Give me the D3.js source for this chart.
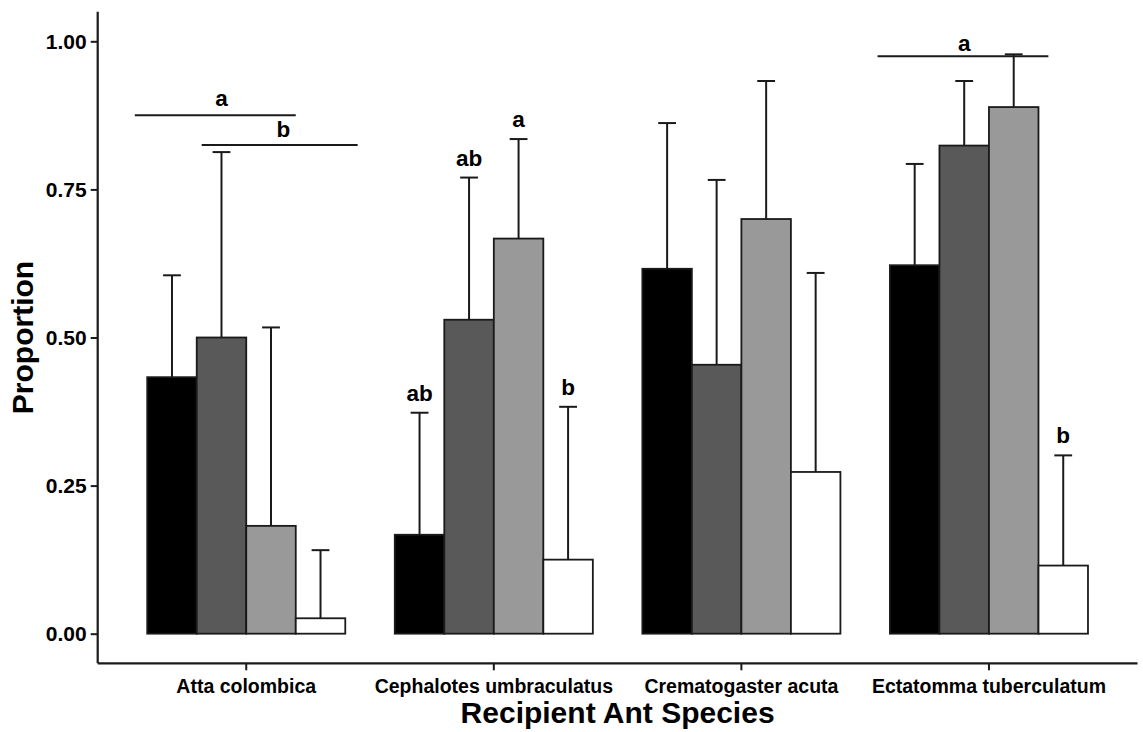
<!DOCTYPE html>
<html>
<head>
<meta charset="utf-8">
<script src="https://cdn.jsdelivr.net/npm/d3@7"></script>
<style>
  html, body { margin: 0; padding: 0; background: #fff; }
  svg { display: block; }
  text { font-family: "Liberation Sans", Arial, Helvetica, sans-serif; font-weight: bold; fill: #000; }
</style>
</head>
<body>
<svg id="chart" width="1143" height="732"></svg>
<script>
// Recipient species on the x axis
const species = ["Atta colombica", "Cephalotes umbraculatus", "Crematogaster acuta", "Ectatomma tuberculatum"];

// Four treatment groups, one bar each per species
const groups = ["g1", "g2", "g3", "g4"];
const groupFills = ["#000000", "#595959", "#999999", "#ffffff"];

// Mean proportion per group (ordered like species)
const meanG1 = [0.433, 0.167, 0.616, 0.622];
const meanG2 = [0.500, 0.530, 0.454, 0.824];
const meanG3 = [0.182, 0.667, 0.700, 0.889];
const meanG4 = [0.026, 0.125, 0.273, 0.115];

// Upper end of the error bar per group
const upperG1 = [0.605, 0.373, 0.862, 0.793];
const upperG2 = [0.813, 0.770, 0.766, 0.933];
const upperG3 = [0.517, 0.835, 0.933, 0.978];
const upperG4 = [0.141, 0.383, 0.609, 0.301];

// Letters written above single bars: [species index, group index, letter]
const barLetters = [
  [1, 0, "ab"],
  [1, 1, "ab"],
  [1, 2, "a"],
  [1, 3, "b"],
  [3, 3, "b"]
];

// Horizontal significance lines, in category units (1 = first species)
const bracketFrom  = [0.55, 0.82, 3.55];
const bracketTo    = [1.20, 1.45, 4.24];
const bracketY     = [0.875, 0.825, 0.975];
const bracketText  = ["a", "b", "a"];
const bracketTextX = [0.90, 1.15, 3.90];
const bracketTextY = [0.890, 0.839, 0.984];

const yTicks = [0, 0.25, 0.5, 0.75, 1.0];

const means = [meanG1, meanG2, meanG3, meanG4];
const uppers = [upperG1, upperG2, upperG3, upperG4];

const svg = d3.select("#chart");
const plotLeft = 97.7, plotRight = 1137.5, plotTop = 11.7, plotBottom = 663.3;

const x = d3.scaleBand().domain(species).range([plotLeft, plotRight])
  .paddingInner(0.2).paddingOuter(0.2);
const xg = d3.scaleBand().domain(groups).range([0, x.bandwidth()]);
const xu = d3.scaleLinear().domain([0.4, 4.6]).range([plotLeft, plotRight]);
const y = d3.scaleLinear().domain([-0.05, 1.05]).range([plotBottom, plotTop]);

const rows = [];
species.forEach((s, i) => {
  groups.forEach((g, j) => {
    rows.push({ s, i, g, j, mean: means[j][i], upper: uppers[j][i] });
  });
});

const ink = "#1a1a1a";
const capHalf = x.bandwidth() * 0.045;

// Error bars (drawn from the mean upward)
const eb = svg.append("g").attr("stroke", ink).attr("stroke-width", 2).attr("fill", "none");
rows.forEach(r => {
  const cx = x(r.s) + xg(r.g) + xg.bandwidth() / 2;
  eb.append("line").attr("x1", cx).attr("x2", cx).attr("y1", y(r.mean)).attr("y2", y(r.upper));
  eb.append("line").attr("x1", cx - capHalf).attr("x2", cx + capHalf).attr("y1", y(r.upper)).attr("y2", y(r.upper));
});

// Bars
svg.append("g").selectAll("rect").data(rows).join("rect")
  .attr("x", d => x(d.s) + xg(d.g))
  .attr("width", xg.bandwidth())
  .attr("y", d => y(d.mean))
  .attr("height", d => y(0) - y(d.mean))
  .attr("fill", d => groupFills[d.j])
  .attr("stroke", ink)
  .attr("stroke-width", 1.8);

// Letters above bars
barLetters.forEach(([si, gi, t]) => {
  const cx = x(species[si]) + xg(groups[gi]) + xg.bandwidth() / 2;
  svg.append("text")
    .attr("x", cx).attr("y", y(uppers[gi][si]) - 12)
    .attr("text-anchor", "middle").attr("font-size", 22.5).text(t);
});

// Significance lines with letters
bracketFrom.forEach((f, k) => {
  svg.append("line")
    .attr("x1", xu(f)).attr("x2", xu(bracketTo[k]))
    .attr("y1", y(bracketY[k])).attr("y2", y(bracketY[k]))
    .attr("stroke", ink).attr("stroke-width", 2);
  svg.append("text")
    .attr("x", xu(bracketTextX[k])).attr("y", y(bracketTextY[k]))
    .attr("text-anchor", "middle").attr("font-size", 22.5).text(bracketText[k]);
});

// Axes
const yAxis = svg.append("g").attr("transform", `translate(${plotLeft},0)`)
  .call(d3.axisLeft(y).tickValues(yTicks).tickFormat(d3.format(".2f")).tickSize(7).tickPadding(4).tickSizeOuter(0));
const xAxis = svg.append("g").attr("transform", `translate(0,${plotBottom})`)
  .call(d3.axisBottom(x).tickSize(7).tickPadding(4).tickSizeOuter(0));

[yAxis, xAxis].forEach(a => {
  a.select(".domain").attr("stroke", ink).attr("stroke-width", 2.2);
  a.selectAll(".tick line").attr("stroke", ink).attr("stroke-width", 2);
  a.selectAll(".tick text").attr("font-weight", "bold")
    .attr("font-family", "'Liberation Sans', Arial, sans-serif").attr("fill", "#000");
});
yAxis.selectAll(".tick text").attr("font-size", 21);
xAxis.selectAll(".tick text").attr("font-size", 19.5).attr("dy", "0.95em");
yAxis.select(".domain").attr("d", `M0,${plotTop}V${plotBottom}`);
xAxis.select(".domain").attr("d", `M${plotLeft},0H${plotRight}`);

// Axis titles
svg.append("text")
  .attr("x", (plotLeft + plotRight) / 2).attr("y", 723)
  .attr("text-anchor", "middle").attr("font-size", 30)
  .text("Recipient Ant Species");
svg.append("text")
  .attr("transform", `translate(33,${(plotTop + plotBottom) / 2}) rotate(-90)`)
  .attr("text-anchor", "middle").attr("font-size", 30)
  .text("Proportion");
</script>
</body>
</html>
